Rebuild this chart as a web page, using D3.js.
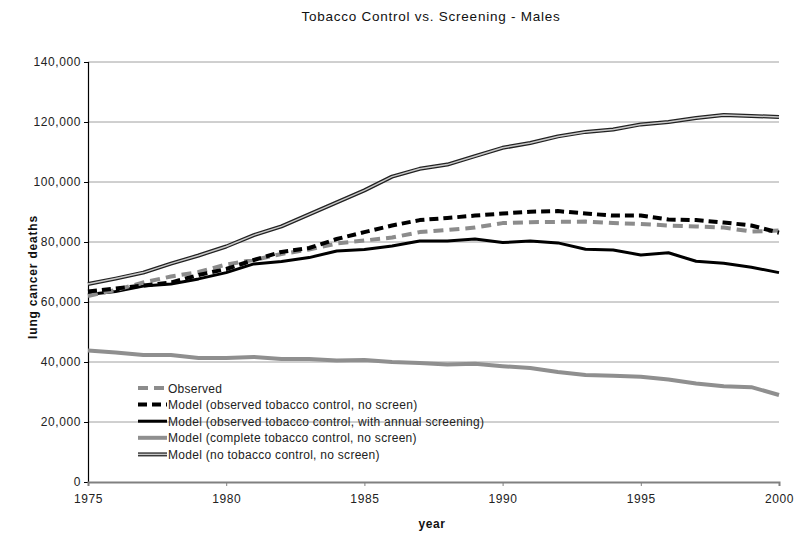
<!DOCTYPE html>
<html>
<head>
<meta charset="utf-8">
<script src="https://cdn.jsdelivr.net/npm/d3@7"></script>
<style>
body { margin: 0; background: #fff; }
svg { font-family: Arial, "Liberation Sans", sans-serif; }
</style>
</head>
<body>
<svg id="chart" width="800" height="540"></svg>
<script>
const years = d3.range(1975, 2001);
const yTicks = [0, 20000, 40000, 60000, 80000, 100000, 120000, 140000];
const xTicks = [1975, 1980, 1985, 1990, 1995, 2000];

const observed = [62000, 64000, 66500, 68500, 70000, 72500, 74000, 76000, 77500, 79500, 80500, 81500, 83300, 84000, 84800, 86300, 86600, 86700, 86800, 86300, 86000, 85500, 85200, 84800, 83500, 83800];
const obsNoScreen = [63500, 64500, 65500, 66500, 69000, 71000, 74000, 76700, 78000, 81000, 83300, 85500, 87300, 88000, 88800, 89500, 90100, 90300, 89500, 88800, 88800, 87500, 87300, 86500, 85500, 83100];
const obsScreen = [62500, 63500, 65300, 66000, 67700, 69800, 72700, 73500, 74800, 77000, 77500, 78700, 80300, 80300, 81000, 79800, 80300, 79700, 77600, 77300, 75700, 76400, 73600, 72900, 71600, 69800];
const completeControl = [43800, 43200, 42300, 42300, 41300, 41300, 41700, 41000, 41000, 40500, 40700, 40000, 39700, 39200, 39400, 38600, 38000, 36700, 35700, 35400, 35100, 34200, 32800, 31900, 31600, 29000];
const noControl = [66000, 67800, 69800, 72800, 75500, 78500, 82300, 85200, 89200, 93200, 97200, 101800, 104400, 105800, 108600, 111400, 113000, 115200, 116700, 117500, 119200, 120000, 121300, 122300, 122000, 121700];

const seriesNames = [
  "Observed",
  "Model (observed tobacco control, no screen)",
  "Model (observed tobacco control, with annual screening)",
  "Model (complete tobacco control, no screen)",
  "Model (no tobacco control, no screen)"
];
const seriesValues = [observed, obsNoScreen, obsScreen, completeControl, noControl];
const styles = [
  { stroke: "#8c8c8c", width: 4, dash: "10,6" },
  { stroke: "#000", width: 4, dash: "9,5" },
  { stroke: "#000", width: 3, dash: null },
  { stroke: "#8f8f8f", width: 4, dash: null },
  { stroke: "#222", width: 4, dash: null, inner: "#c8c8c8" }
];

const svg = d3.select("#chart");
const m = { left: 88, right: 21, top: 62, bottom: 58 };
const W = 800, H = 540;
const x = d3.scaleLinear().domain([1975, 2000]).range([m.left, W - m.right]);
const y = d3.scaleLinear().domain([0, 140000]).range([H - m.bottom, m.top]);

// gridlines
svg.append("g").selectAll("line").data(yTicks.filter(d => d > 0)).join("line")
  .attr("x1", m.left).attr("x2", W - m.right)
  .attr("y1", d => y(d)).attr("y2", d => y(d))
  .attr("stroke", "#a0a0a0").attr("stroke-width", 1);

// y axis
const yAxis = svg.append("g").attr("transform", `translate(${m.left},0)`)
  .call(d3.axisLeft(y).tickValues(yTicks).tickSize(4).tickPadding(3).tickFormat(d3.format(",")));
yAxis.select(".domain").attr("stroke", "#000").attr("stroke-width", 1.2);
yAxis.selectAll(".tick line").attr("stroke", "#000");
yAxis.selectAll("text").attr("font-size", 12).attr("fill", "#222").attr("letter-spacing", 0.6)
  .attr("font-family", "Arial, 'Liberation Sans', sans-serif");

// x axis
const xAxis = svg.append("g").attr("transform", `translate(0,${y(0)})`)
  .call(d3.axisBottom(x).tickValues(xTicks).tickSize(4).tickPadding(8).tickFormat(d3.format("d")));
xAxis.select(".domain").attr("stroke", "#808080").attr("stroke-width", 2);
xAxis.selectAll(".tick line").attr("stroke", "#808080");
xAxis.selectAll("text").attr("font-size", 12).attr("fill", "#222").attr("letter-spacing", 0.6)
  .attr("font-family", "Arial, 'Liberation Sans', sans-serif");

// lines
const line = d3.line().x((d, i) => x(years[i])).y(d => y(d));
const order = [3, 4, 2, 0, 1];
order.forEach(k => {
  const st = styles[k];
  const p = svg.append("path").datum(seriesValues[k])
    .attr("fill", "none").attr("stroke", st.stroke).attr("stroke-width", st.width)
    .attr("stroke-linejoin", "round").attr("d", line);
  if (st.dash) p.attr("stroke-dasharray", st.dash);
  if (st.inner) {
    svg.append("path").datum(seriesValues[k])
      .attr("fill", "none").attr("stroke", st.inner).attr("stroke-width", 1.5)
      .attr("stroke-linejoin", "round").attr("d", line);
  }
});

// legend
const lg = svg.append("g").attr("transform", "translate(138,388)");
seriesNames.forEach((name, i) => {
  const st = styles[i];
  const g = lg.append("g").attr("transform", `translate(0,${i * 16.6})`);
  const l = g.append("line").attr("x1", 0).attr("x2", 29).attr("y1", 0).attr("y2", 0)
    .attr("stroke", st.stroke).attr("stroke-width", st.width);
  if (st.dash) l.attr("stroke-dasharray", st.dash);
  if (st.inner) g.append("line").attr("x1", 0).attr("x2", 29).attr("y1", 0).attr("y2", 0)
    .attr("stroke", st.inner).attr("stroke-width", 1.5);
  g.append("text").attr("x", 30).attr("y", 4.5).attr("font-size", 12).attr("letter-spacing", 0.28)
    .attr("fill", "#222").text(name);
});

// title & labels
svg.append("text").attr("x", 431).attr("y", 21).attr("text-anchor", "middle")
  .attr("font-size", 13.5).attr("letter-spacing", 0.75).attr("fill", "#111")
  .text("Tobacco Control vs. Screening - Males");
svg.append("text").attr("transform", "translate(37,277) rotate(-90)").attr("text-anchor", "middle")
  .attr("font-size", 12).attr("font-weight", "bold").attr("letter-spacing", 0.8).attr("fill", "#111")
  .text("lung cancer deaths");
svg.append("text").attr("x", 432).attr("y", 528).attr("text-anchor", "middle")
  .attr("font-size", 12).attr("font-weight", "bold").attr("letter-spacing", 0.6).attr("fill", "#111")
  .text("year");
</script>
</body>
</html>
